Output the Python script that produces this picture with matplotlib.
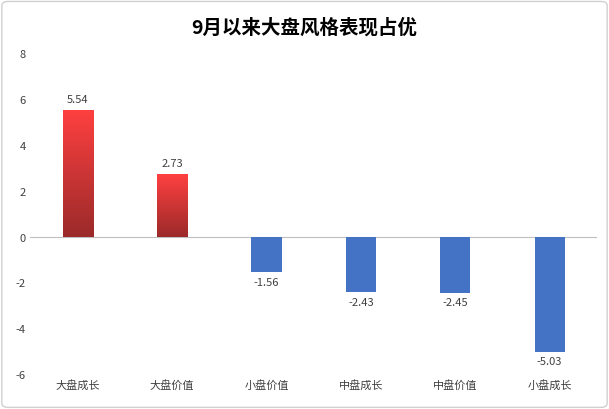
import matplotlib
matplotlib.use("Agg")
import matplotlib.pyplot as plt
import numpy as np
from matplotlib.colors import LinearSegmentedColormap
from matplotlib.patches import FancyBboxPatch

plt.rcParams['font.family'] = ['Noto Sans CJK SC', 'DejaVu Sans']

categories = ['大盘成长', '大盘价值', '小盘价值', '中盘成长', '中盘价值', '小盘成长']
values = [5.54, 2.73, -1.56, -2.43, -2.45, -5.03]
labels = ['5.54', '2.73', '-1.56', '-2.43', '-2.45', '-5.03']

fig = plt.figure(figsize=(6.09, 4.10), dpi=100)
ax = fig.add_axes([0.05, 0.085, 0.93, 0.783])
x = np.arange(len(categories))
w = 0.32
cmap = LinearSegmentedColormap.from_list('r', ['#9b2a2a', '#ff4040'])
for xi, v, lab in zip(x, values, labels):
    if v > 0:
        bar = ax.bar(xi, v, w, color='none', zorder=2)[0]
        grad = np.linspace(0, 1, 256).reshape(-1, 1)
        im = ax.imshow(grad, cmap=cmap, origin='lower', aspect='auto',
                       extent=[xi - w/2, xi + w/2, 0, v], zorder=2)
        im.set_clip_path(bar)
        ax.text(xi, v + 0.25, lab, ha='center', va='bottom', fontsize=8, color='#404040')
    else:
        ax.bar(xi, v, w, color='#4472C4', zorder=2)
        ax.text(xi, v - 0.2, lab, ha='center', va='top', fontsize=8, color='#404040')

ax.axhline(0, color='#bfbfbf', lw=0.8, zorder=1)
ax.set_xlim(-0.5, len(categories) - 0.5)
ax.set_ylim(-6, 8)
ax.set_yticks(range(-6, 9, 2))
ax.set_yticklabels([str(t) for t in range(-6, 9, 2)], fontsize=8, color='#404040')
ax.set_xticks(x)
ax.set_xticklabels(categories, fontsize=8, color='#404040')
ax.tick_params(length=0)
for s in ax.spines.values():
    s.set_visible(False)
fig.suptitle('9月以来大盘风格表现占优', y=0.955, fontsize=14, fontweight='bold', color='#000000')
fig.patches.append(FancyBboxPatch((0.003, 0.004), 0.994, 0.99, boxstyle='round,pad=0,rounding_size=0.01',
                                  transform=fig.transFigure, fill=False, edgecolor='#d0d0d0', lw=1))
fig.savefig('out.png', dpi=100)
